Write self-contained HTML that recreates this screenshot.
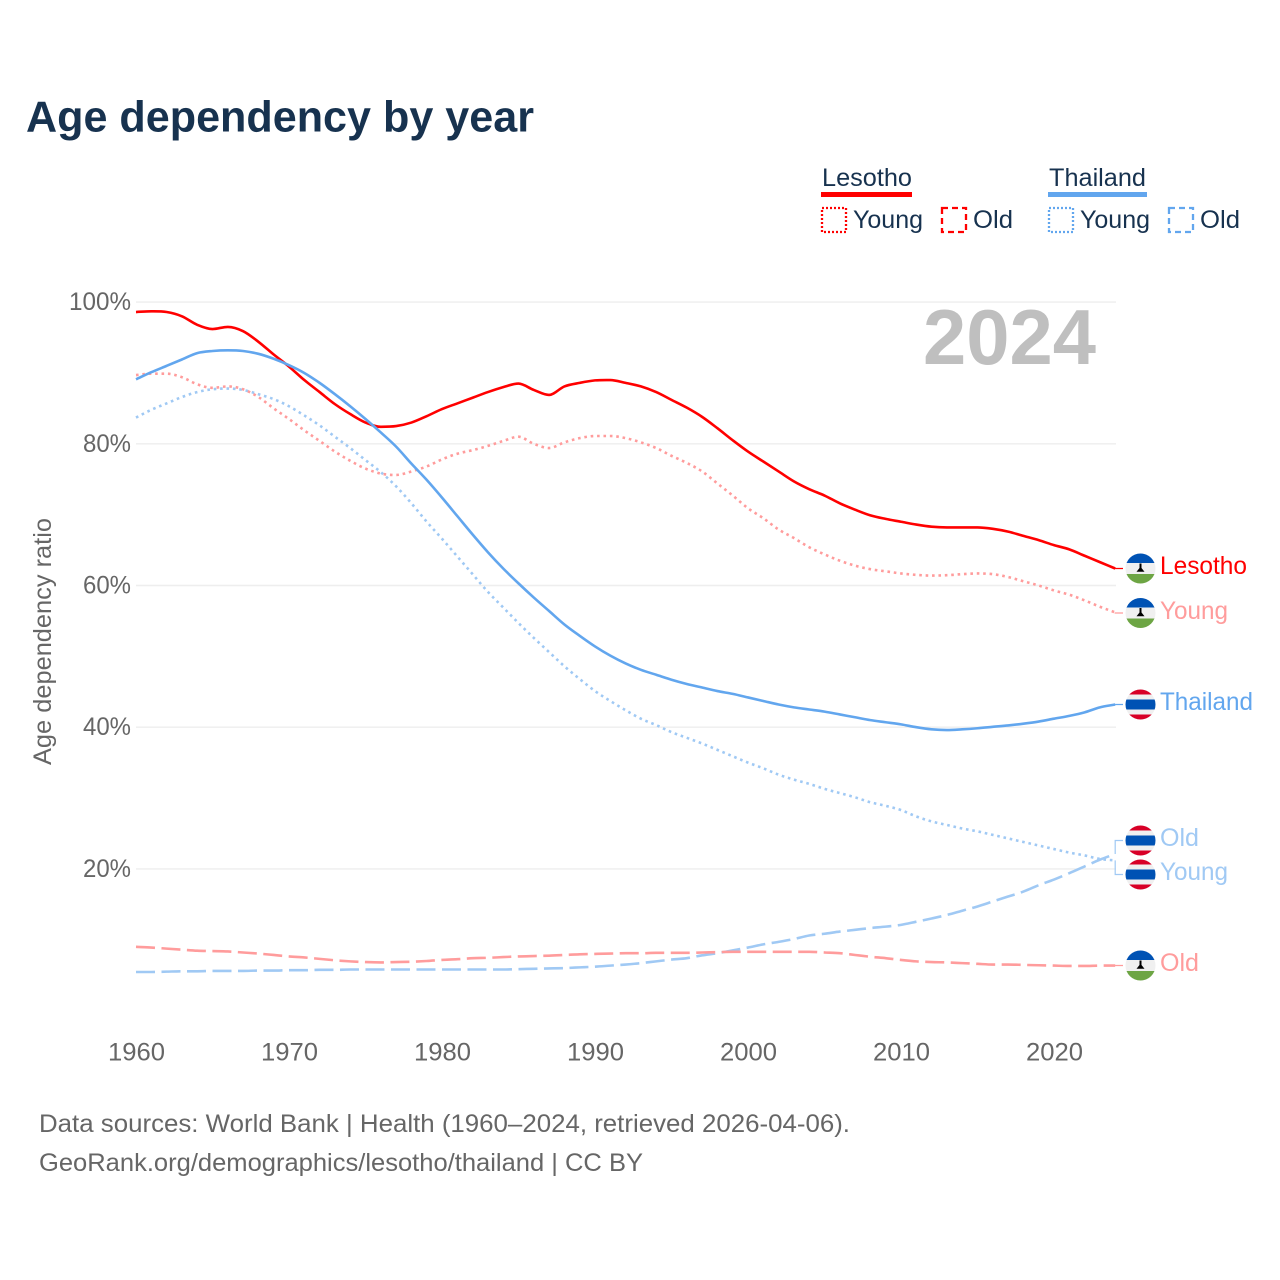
<!DOCTYPE html>
<html lang="en">
<head>
<meta charset="utf-8">
<title>Age dependency by year</title>
<style>
html,body{margin:0;padding:0;background:#fff;}
svg{display:block;}
text{font-family:"Liberation Sans",sans-serif;}
.tick{font-size:25px;fill:#666;}
.dark{fill:#17324f;font-size:25px;}
.lab{font-size:25px;}
.foot{font-size:25px;fill:#666;}
</style>
</head>
<body>
<svg id="chart" xmlns="http://www.w3.org/2000/svg" width="1280" height="1280" viewBox="0 0 1280 1280">
  <defs>
    <clipPath id="flag-clip"><circle cx="0" cy="0" r="15"/></clipPath>
    <g id="flag-ls" clip-path="url(#flag-clip)">
      <rect x="-16" y="-16" width="32" height="32" fill="#f0f0f0"/>
      <rect x="-16" y="-16" width="32" height="10.5" fill="#0052b4"/>
      <rect x="-16" y="5.5" width="32" height="11" fill="#6da544"/>
      <path d="M-1 -5 H1 V-0.5 L4 3.2 H-4 L-1 -0.5 Z" fill="#000"/>
    </g>
    <g id="flag-th" clip-path="url(#flag-clip)">
      <rect x="-16" y="-16" width="32" height="32" fill="#f0f0f0"/>
      <rect x="-16" y="-16" width="32" height="6" fill="#d80027"/>
      <rect x="-16" y="10" width="32" height="6" fill="#d80027"/>
      <rect x="-16" y="-5" width="32" height="10" fill="#0052b4"/>
    </g>
  </defs>

  <text x="26" y="131.5" font-size="44" font-weight="700" fill="#17324f" textLength="508" lengthAdjust="spacingAndGlyphs">Age dependency by year</text>

  <g>
    <text class="dark" x="822" y="186" textLength="90" lengthAdjust="spacingAndGlyphs">Lesotho</text>
    <rect x="821" y="192" width="91" height="5" fill="#ff0000"/>
    <rect x="822" y="208" width="24" height="24" fill="none" stroke="#ff0000" stroke-width="2.3" stroke-dasharray="2 2"/>
    <text class="dark" x="853" y="228" textLength="70" lengthAdjust="spacingAndGlyphs">Young</text>
    <rect x="942" y="208" width="24" height="24" fill="none" stroke="#ff0000" stroke-width="2.3" stroke-dasharray="6 4"/>
    <text class="dark" x="973" y="228" textLength="40" lengthAdjust="spacingAndGlyphs">Old</text>

    <text class="dark" x="1049" y="186" textLength="97" lengthAdjust="spacingAndGlyphs">Thailand</text>
    <rect x="1048" y="192" width="99" height="5" fill="#62a6ee"/>
    <rect x="1049" y="208" width="24" height="24" fill="none" stroke="#62a6ee" stroke-width="2.3" stroke-dasharray="2 2"/>
    <text class="dark" x="1080" y="228" textLength="70" lengthAdjust="spacingAndGlyphs">Young</text>
    <rect x="1169" y="208" width="24" height="24" fill="none" stroke="#62a6ee" stroke-width="2.3" stroke-dasharray="6 4"/>
    <text class="dark" x="1200" y="228" textLength="40" lengthAdjust="spacingAndGlyphs">Old</text>
  </g>

  <g id="grid"></g>
  <g id="yticks"></g>
  <g id="xticks"></g>

  <text transform="translate(51,765) rotate(-90)" font-size="25" fill="#666" textLength="247" lengthAdjust="spacingAndGlyphs">Age dependency ratio</text>

  <text x="923" y="364" font-size="78" font-weight="700" fill="#bfbfbf" textLength="173" lengthAdjust="spacingAndGlyphs">2024</text>

  <g id="connectors"></g>
  <g id="series"></g>

  <g>
    <use href="#flag-ls" x="1140.5" y="568.5"/>
    <text class="lab" x="1160" y="574" fill="#ff0000" textLength="87" lengthAdjust="spacingAndGlyphs">Lesotho</text>
    <use href="#flag-ls" x="1140.5" y="613"/>
    <text class="lab" x="1160" y="619" fill="#ff9c9c" textLength="68" lengthAdjust="spacingAndGlyphs">Young</text>
    <use href="#flag-th" x="1140.5" y="704.5"/>
    <text class="lab" x="1160" y="710" fill="#62a6ee" textLength="93" lengthAdjust="spacingAndGlyphs">Thailand</text>
    <use href="#flag-th" x="1140.5" y="840.5"/>
    <text class="lab" x="1160" y="846" fill="#a0c9f4" textLength="39" lengthAdjust="spacingAndGlyphs">Old</text>
    <use href="#flag-th" x="1140.5" y="874.5"/>
    <text class="lab" x="1160" y="880" fill="#a0c9f4" textLength="68" lengthAdjust="spacingAndGlyphs">Young</text>
    <use href="#flag-ls" x="1140.5" y="965.5"/>
    <text class="lab" x="1160" y="971" fill="#ff9c9c" textLength="39" lengthAdjust="spacingAndGlyphs">Old</text>
  </g>

  <text class="foot" x="39" y="1132" textLength="811" lengthAdjust="spacingAndGlyphs">Data sources: World Bank | Health (1960–2024, retrieved 2026-04-06).</text>
  <text class="foot" x="39" y="1171" textLength="604" lengthAdjust="spacingAndGlyphs">GeoRank.org/demographics/lesotho/thailand | CC BY</text>
</svg>
<script>
const years = [1960,1961,1962,1963,1964,1965,1966,1967,1968,1969,1970,1971,1972,1973,1974,1975,1976,1977,1978,1979,1980,1981,1982,1983,1984,1985,1986,1987,1988,1989,1990,1991,1992,1993,1994,1995,1996,1997,1998,1999,2000,2001,2002,2003,2004,2005,2006,2007,2008,2009,2010,2011,2012,2013,2014,2015,2016,2017,2018,2019,2020,2021,2022,2023,2024];
const lesothoTotal = [98.6,98.7,98.6,98,96.8,96.2,96.5,95.9,94.4,92.6,90.9,89,87.3,85.6,84.2,83,82.4,82.5,83,83.9,84.9,85.7,86.5,87.3,88,88.5,87.6,86.9,88.1,88.6,88.95,89,88.6,88.1,87.3,86.2,85.1,83.8,82.2,80.5,78.9,77.5,76.1,74.7,73.6,72.7,71.6,70.7,69.9,69.4,69,68.6,68.3,68.2,68.2,68.2,68,67.6,67,66.4,65.7,65.1,64.2,63.3,62.4];
const lesothoYoung = [89.7,89.9,89.9,89.4,88.4,87.9,88.1,87.7,86.6,85,83.5,81.9,80.4,78.9,77.6,76.5,75.8,75.6,76.1,76.8,77.8,78.6,79.1,79.7,80.4,81,80,79.4,80.2,80.8,81.1,81.1,80.8,80.2,79.4,78.3,77.3,76.1,74.4,72.7,70.9,69.5,67.9,66.7,65.4,64.4,63.5,62.8,62.3,62,61.7,61.5,61.4,61.45,61.6,61.7,61.6,61.2,60.6,60,59.3,58.7,57.9,57,56.2];
const lesothoOld = [9,8.9,8.75,8.6,8.45,8.4,8.35,8.2,8.05,7.85,7.65,7.5,7.3,7.1,6.95,6.85,6.8,6.85,6.9,7,7.15,7.25,7.4,7.45,7.55,7.65,7.7,7.75,7.85,7.95,8,8.05,8.1,8.1,8.15,8.15,8.15,8.2,8.25,8.3,8.3,8.3,8.3,8.3,8.3,8.2,8.1,7.85,7.6,7.4,7.15,6.95,6.85,6.8,6.7,6.6,6.5,6.5,6.45,6.4,6.35,6.3,6.3,6.35,6.35];
const thailandTotal = [89.1,90.1,91,91.9,92.8,93.1,93.2,93.1,92.7,92,91.1,90,88.6,87,85.3,83.5,81.6,79.6,77.2,74.9,72.4,69.8,67.2,64.7,62.4,60.3,58.3,56.4,54.5,52.9,51.4,50.1,49,48.1,47.4,46.7,46.1,45.6,45.1,44.7,44.2,43.7,43.2,42.8,42.5,42.2,41.8,41.4,41,40.7,40.4,40,39.7,39.6,39.7,39.85,40.05,40.25,40.5,40.8,41.2,41.6,42.1,42.8,43.2];
const thailandYoung = [83.7,84.8,85.7,86.6,87.3,87.7,87.8,87.6,87,86.3,85.3,84,82.6,81,79.4,77.7,76,74,71.6,69,66.6,64.1,61.6,59.1,56.9,54.7,52.6,50.6,48.6,46.8,45.1,43.7,42.4,41.2,40.3,39.3,38.5,37.7,36.8,35.9,35,34.2,33.3,32.6,32,31.3,30.7,30.1,29.4,28.9,28.3,27.4,26.7,26.2,25.7,25.3,24.8,24.3,23.8,23.3,22.8,22.3,21.9,21.4,21.2];
const thailandOld = [5.45,5.45,5.5,5.55,5.55,5.6,5.6,5.6,5.65,5.65,5.7,5.7,5.75,5.75,5.8,5.8,5.8,5.8,5.8,5.8,5.8,5.8,5.8,5.8,5.8,5.85,5.9,5.95,6,6.1,6.2,6.35,6.5,6.7,6.95,7.2,7.4,7.8,8.1,8.5,8.9,9.35,9.7,10.1,10.6,10.85,11.15,11.4,11.65,11.85,12.1,12.55,13,13.5,14.1,14.7,15.4,16.1,16.8,17.7,18.5,19.4,20.35,21.3,22.1];
const xTickYears = [1960,1970,1980,1990,2000,2010,2020];
const yTickValues = [20,40,60,80,100];

const NS = 'http://www.w3.org/2000/svg';
function xScale(year){ return 136 + (year - 1960) * 15.3; }
function yScale(v){ return 1010.6 - 7.085 * v; }
function linePath(values){
  const xs = values.map(function(v,i){ return xScale(years[i]); });
  const ys = values.map(yScale);
  const n = ys.length;
  const secant = [];
  for (let i = 0; i < n - 1; i++) secant.push((ys[i+1] - ys[i]) / (xs[i+1] - xs[i]));
  const slope = [secant[0]];
  for (let i = 1; i < n - 1; i++) {
    slope.push(secant[i-1] * secant[i] <= 0 ? 0 : (secant[i-1] + secant[i]) / 2);
  }
  slope.push(secant[n-2]);
  let d = 'M' + xs[0].toFixed(2) + ' ' + ys[0].toFixed(2);
  for (let i = 0; i < n - 1; i++) {
    const h = (xs[i+1] - xs[i]) / 3;
    d += 'C' + (xs[i] + h).toFixed(2) + ' ' + (ys[i] + slope[i] * h).toFixed(2) + ' ' +
         (xs[i+1] - h).toFixed(2) + ' ' + (ys[i+1] - slope[i+1] * h).toFixed(2) + ' ' +
         xs[i+1].toFixed(2) + ' ' + ys[i+1].toFixed(2);
  }
  return d;
}

const gridG = document.getElementById('grid');
const yG = document.getElementById('yticks');
yTickValues.forEach(function(v){
  const l = document.createElementNS(NS,'line');
  
  
  l.setAttribute('x1', 136); l.setAttribute('x2', 1116);
  l.setAttribute('y1', yScale(v)); l.setAttribute('y2', yScale(v));
  l.setAttribute('stroke', '#eeeeee'); l.setAttribute('stroke-width', '1.4');
  gridG.appendChild(l);
  const t = document.createElementNS(NS,'text');
  
  
  t.setAttribute('class', 'tick');
  t.setAttribute('x', 131); t.setAttribute('y', yScale(v) + 8);
  t.setAttribute('text-anchor', 'end');
  t.setAttribute('textLength', v === 100 ? 62 : 48);
  t.setAttribute('lengthAdjust', 'spacingAndGlyphs');
  t.textContent = v + '%';
  yG.appendChild(t);
});

const xG = document.getElementById('xticks');
xTickYears.forEach(function(y){
  const t = document.createElementNS(NS,'text');
  
  
  t.setAttribute('class', 'tick');
  t.setAttribute('x', xScale(y) + 0.5); t.setAttribute('y', 1060.5);
  t.setAttribute('text-anchor', 'middle');
  t.setAttribute('textLength', 57);
  t.setAttribute('lengthAdjust', 'spacingAndGlyphs');
  t.textContent = y;
  xG.appendChild(t);
});

const seriesG = document.getElementById('series');
function addSeries(name, values, color, dash){
  const p = document.createElementNS(NS,'path');
  
  
  p.setAttribute('d', linePath(values));
  p.setAttribute('fill', 'none');
  p.setAttribute('stroke', color);
  p.setAttribute('stroke-width', '2.6');
  p.setAttribute('stroke-linejoin', 'round');
  if (dash) p.setAttribute('stroke-dasharray', dash);
  seriesG.appendChild(p);
}
addSeries('line-thailand-old', thailandOld, '#a0c9f4', '19 6.5');
addSeries('line-lesotho-old', lesothoOld, '#ff9c9c', '19 6.5');
addSeries('line-thailand-young', thailandYoung, '#a0c9f4', '2.6 3.8');
addSeries('line-lesotho-young', lesothoYoung, '#ff9c9c', '2.6 3.8');
addSeries('line-lesotho-total', lesothoTotal, '#ff0000', '');
addSeries('line-thailand-total', thailandTotal, '#62a6ee', '');

const connG = document.getElementById('connectors');
function addConnector(name, values, labelY, color){
  const last = values.length - 1;
  const ex = xScale(years[last]);
  const ey = yScale(values[last]);
  const c = document.createElementNS(NS,'path');
  
  
  c.setAttribute('d', 'M' + ex + ' ' + ey + 'L' + ex + ' ' + labelY + 'L1123 ' + labelY);
  c.setAttribute('fill', 'none');
  c.setAttribute('stroke', color);
  c.setAttribute('stroke-width', '1.2');
  connG.appendChild(c);
}
addConnector('connector-lesotho-total', lesothoTotal, 568.5, '#ff0000');
addConnector('connector-lesotho-young', lesothoYoung, 613, '#ff9c9c');
addConnector('connector-lesotho-old', lesothoOld, 965.5, '#ff9c9c');
addConnector('connector-thailand-total', thailandTotal, 704.5, '#62a6ee');
addConnector('connector-thailand-old', thailandOld, 840.5, '#a0c9f4');
addConnector('connector-thailand-young', thailandYoung, 874.5, '#a0c9f4');
</script>
</body>
</html>
